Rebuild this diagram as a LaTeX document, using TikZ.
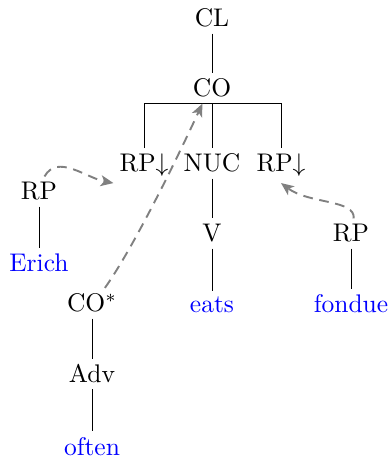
\documentclass[tikz,border=0pt]{standalone}
\usetikzlibrary{arrows.meta}
\begin{document}
\begin{tikzpicture}[x=0.3922pt, y=0.3922pt,
  lbl/.style={anchor=base, inner sep=2.2pt},
  leaf/.style={lbl, text=blue},
  branch/.style={line width=0.32pt},
  move/.style={gray, line width=0.75pt, dash pattern=on 3.8pt off 2.6pt,
    -{Stealth[length=5pt, width=4.3pt, inset=1.3pt]}}]
\useasboundingbox (0,0) rectangle (391,457);

% clause core
\node[lbl] (CL)  at (212,430) {CL};
\node[lbl] (CO)  at (212,360) {CO};
\node[lbl] (RPL) at (144,285) {RP$\downarrow$};
\node[lbl] (NUC) at (212,285) {NUC};
\node[lbl] (RPR) at (281,285) {RP$\downarrow$};
\node[lbl] (V)   at (212,215) {V};
\node[leaf] (eats) at (212,144) {eats};

% subject
\node[lbl]  (RPa)   at (39,257) {RP};
\node[leaf] (Erich) at (39,185) {Erich};

% object
\node[lbl]  (RPb)    at (351,215) {RP};
\node[leaf] (fondue) at (351,144) {fondue};

% adverbial modifier
\node[lbl]  (COs)   at (92,145) {CO$^*$};
\node[lbl]  (Adv)   at (92,74) {Adv};
\node[leaf] (often) at (92,2) {often};

% tree branches
\draw[branch] (CL) -- (CO);
\draw[branch] (CO.south) -- (NUC.north);
\draw[branch] (RPL.north) |- (CO.south) -| (RPR.north);
\draw[branch] (NUC) -- (V);
\draw[branch] (V) -- (eats);
\draw[branch] (RPa) -- (Erich);
\draw[branch] (RPb) -- (fondue);
\draw[branch] (COs) -- (Adv);
\draw[branch] (Adv) -- (often);

% substitution and adjunction arrows
\draw[move] (RPa.70) .. controls +(13,23) and +(-27,5) .. (RPL.south west);
\draw[move] (COs.50) .. controls +(29,41) and +(-25,-54) .. (CO.238);
\draw[move] (RPb.80) .. controls +(2,19) and +(28,-21) .. (RPR.south);
\end{tikzpicture}
\end{document}
